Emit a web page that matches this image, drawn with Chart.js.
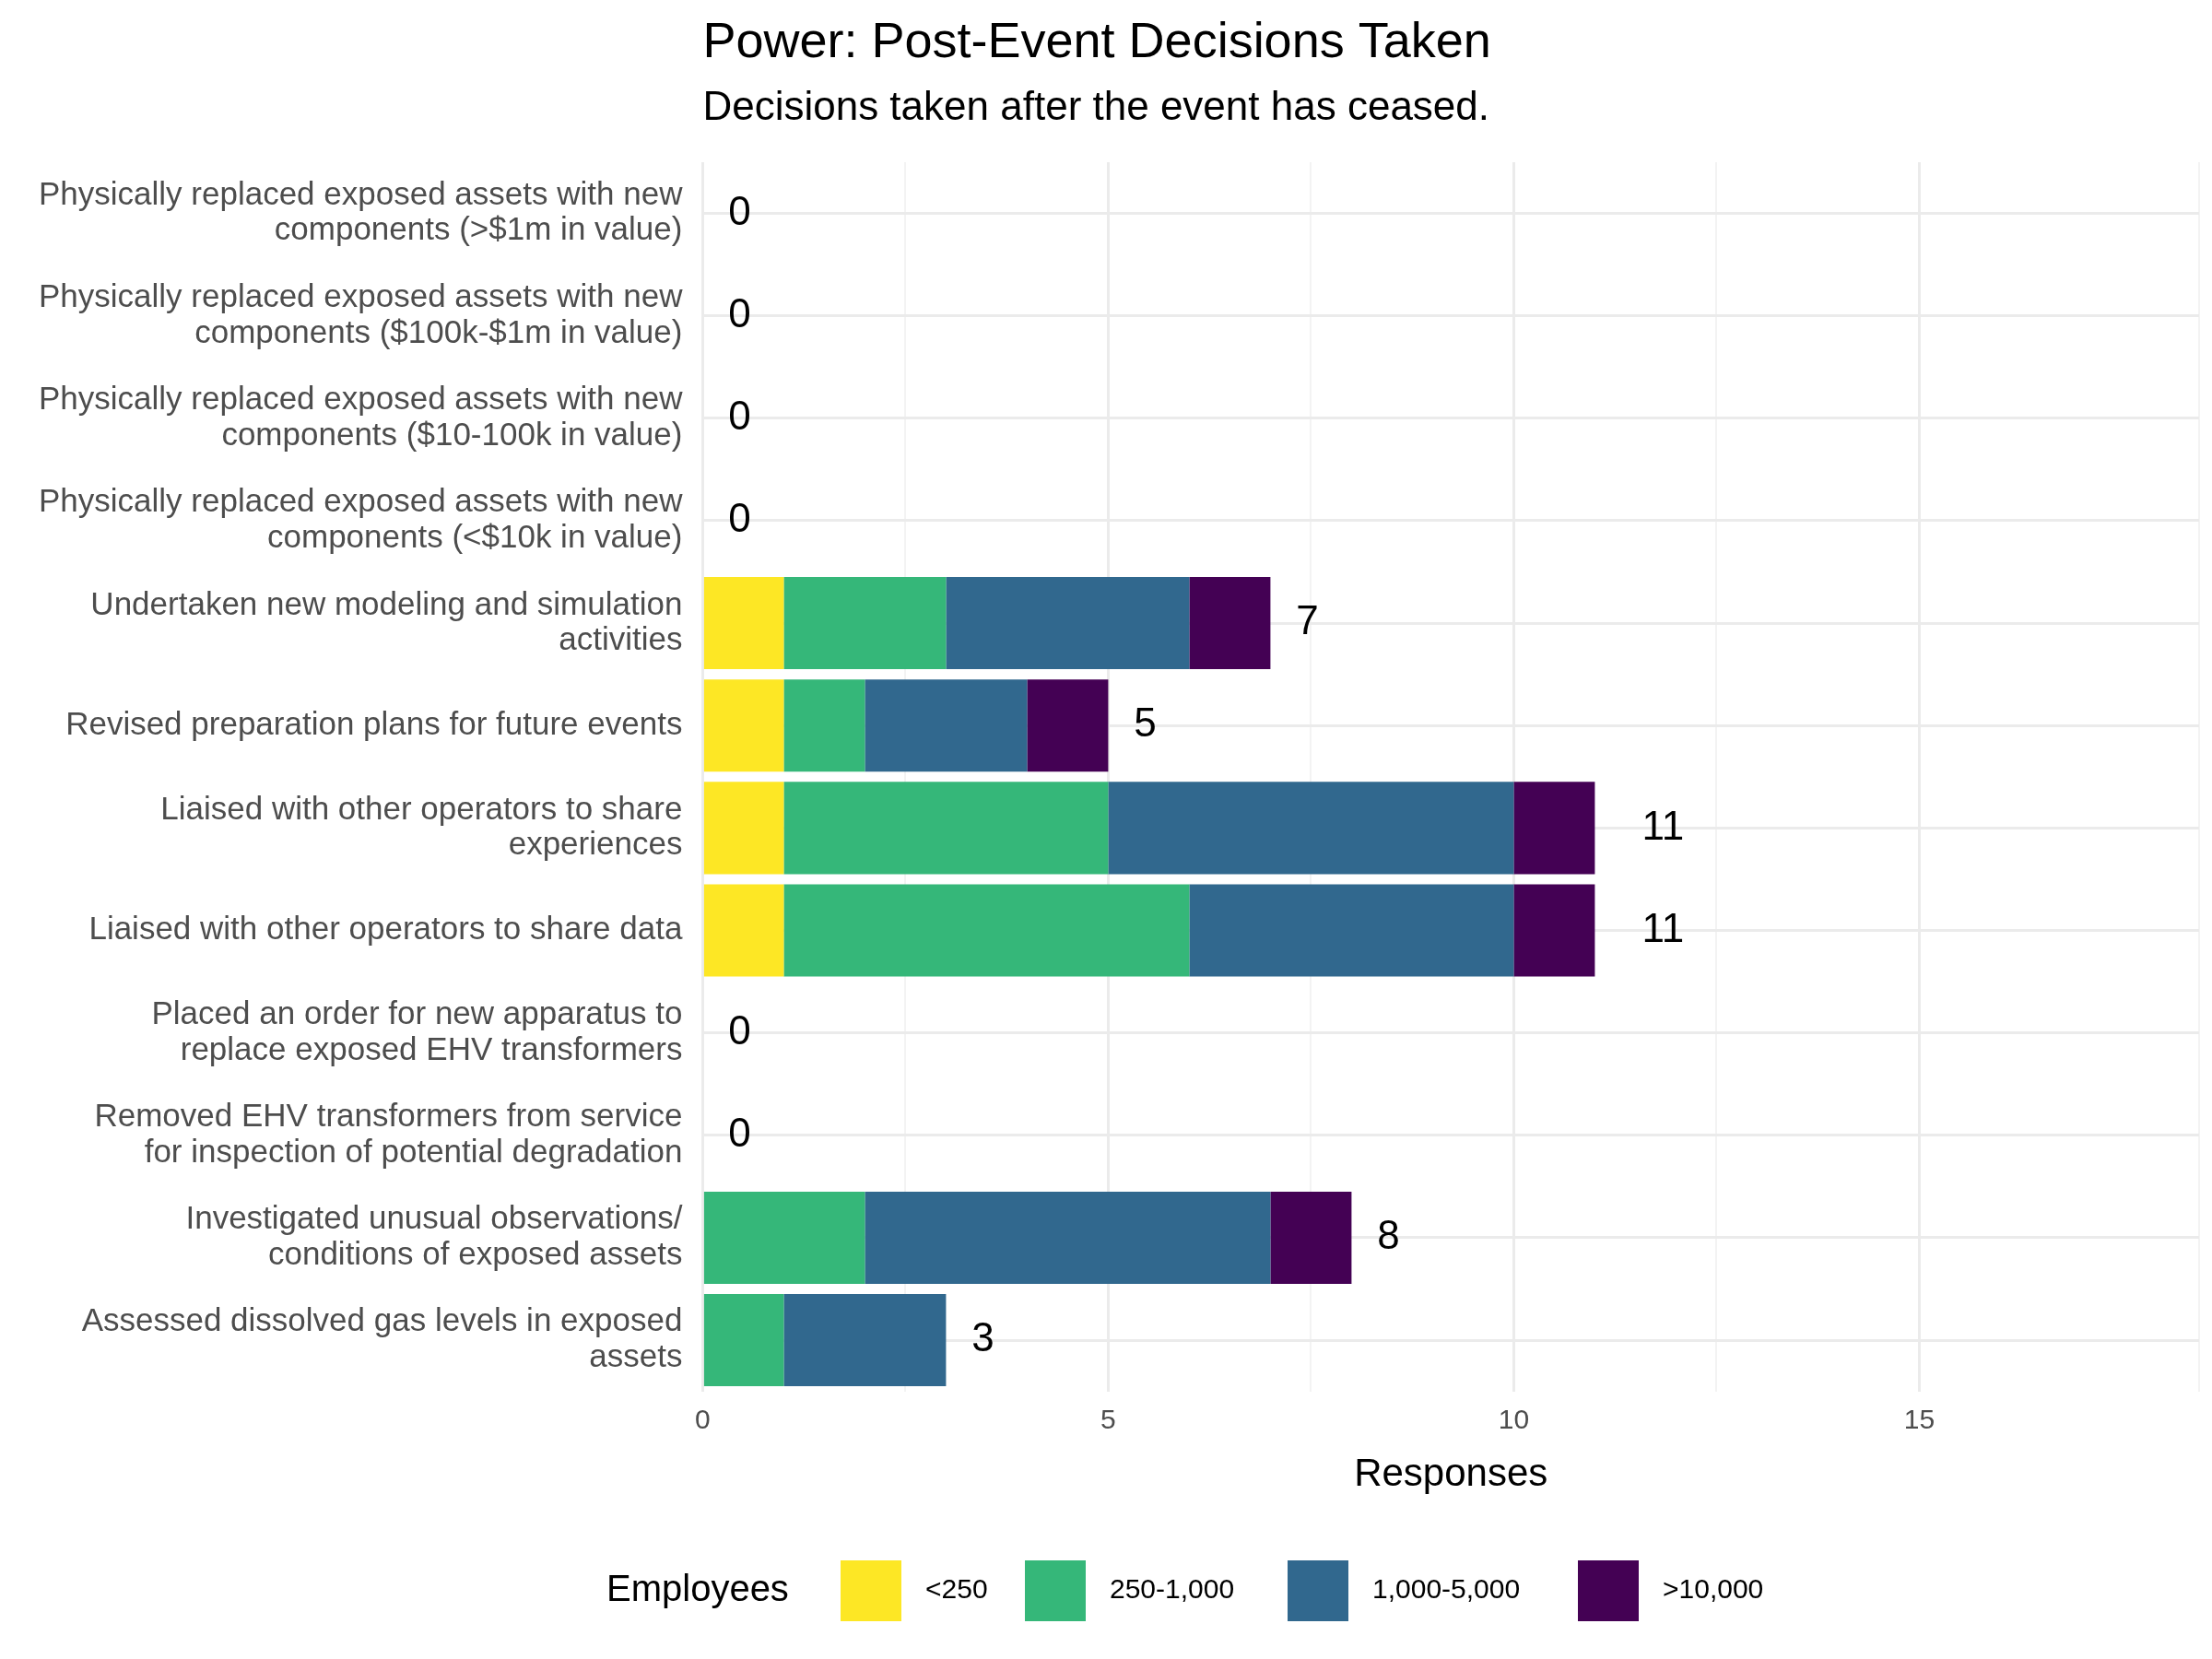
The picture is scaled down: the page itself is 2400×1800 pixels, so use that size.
<!DOCTYPE html>
<html>
<head>
<meta charset="utf-8">
<script src="https://cdn.jsdelivr.net/npm/chart.js@4"></script>
<style>
  html, body { margin: 0; padding: 0; background: #fff; }
  #wrap { width: 2400px; height: 1800px; }
</style>
</head>
<body>
<div id="wrap"><canvas id="chart" width="2400" height="1800"></canvas></div>
<script>
// categories, top to bottom
const categories = [
    ['Physically replaced exposed assets with new', 'components (>$1m in value)'],
    ['Physically replaced exposed assets with new', 'components ($100k-$1m in value)'],
    ['Physically replaced exposed assets with new', 'components ($10-100k in value)'],
    ['Physically replaced exposed assets with new', 'components (<$10k in value)'],
    ['Undertaken new modeling and simulation', 'activities'],
    'Revised preparation plans for future events',
    ['Liaised with other operators to share', 'experiences'],
    'Liaised with other operators to share data',
    ['Placed an order for new apparatus to', 'replace exposed EHV transformers'],
    ['Removed EHV transformers from service', 'for inspection of potential degradation'],
    ['Investigated unusual observations/', 'conditions of exposed assets'],
    ['Assessed dissolved gas levels in exposed', 'assets']
];

const seriesNames = ['<250', '250-1,000', '1,000-5,000', '>10,000'];
const under250 = [0, 0, 0, 0, 1, 1, 1, 1, 0, 0, 0, 0];
const from250to1000 = [0, 0, 0, 0, 2, 1, 4, 5, 0, 0, 2, 1];
const from1000to5000 = [0, 0, 0, 0, 3, 2, 5, 4, 0, 0, 5, 2];
const over10000 = [0, 0, 0, 0, 1, 1, 1, 1, 0, 0, 1, 0];
const colors = ['#FDE725', '#35B779', '#31688E', '#440154'];
const xTicks = [0, 5, 10, 15];

const FONT = 'Liberation Sans, Arial, sans-serif';
Chart.defaults.font.family = FONT;

const seriesValues = [under250, from250to1000, from1000to5000, over10000];

// title, subtitle, total labels and legend
const extras = {
    id: 'extras',
    afterDraw(chart) {
        const c = chart.ctx;
        const area = chart.chartArea;
        const x = chart.scales.x, y = chart.scales.y;
        c.save();
        c.fillStyle = '#000';
        c.textBaseline = 'alphabetic';
        c.textAlign = 'left';
        c.font = '54px ' + FONT;
        c.fillText('Power: Post-Event Decisions Taken', area.left, 62);
        c.font = '44px ' + FONT;
        c.fillText('Decisions taken after the event has ceased.', area.left, 130);

        // totals
        c.font = '44px ' + FONT;
        c.textBaseline = 'middle';
        c.textAlign = 'center';
        categories.forEach((cat, i) => {
            const total = seriesValues.reduce((s, arr) => s + arr[i], 0);
            const px = x.getPixelForValue(total) + (total >= 10 ? 74 : 40);
            c.fillText(String(total), px, y.getPixelForValue(i));
        });

        // legend
        const ly = 1726;
        const box = 66;
        const boxX = [912, 1112, 1397, 1712];
        c.textBaseline = 'middle';
        c.textAlign = 'left';
        c.font = '40px ' + FONT;
        c.fillText('Employees', 658, ly);
        seriesNames.forEach((n, i) => {
            c.fillStyle = colors[i];
            c.fillRect(boxX[i], ly - box / 2, box, box);
            c.fillStyle = '#000';
            c.font = '30px ' + FONT;
            c.fillText(n, boxX[i] + box + 26, ly);
        });
        c.restore();
    }
};

new Chart(document.getElementById('chart').getContext('2d'), {
    type: 'bar',
    data: {
        labels: categories,
        datasets: seriesNames.map((n, i) => ({
            label: n,
            data: seriesValues[i],
            backgroundColor: colors[i],
            borderWidth: 0,
            categoryPercentage: 0.9,
            barPercentage: 1.0
        }))
    },
    options: {
        indexAxis: 'y',
        responsive: false,
        animation: false,
        layout: { padding: { top: 176, right: 12, bottom: 170, left: 20 } },
        plugins: {
            legend: { display: false },
            tooltip: { enabled: false }
        },
        scales: {
            x: {
                stacked: true,
                min: 0,
                max: 18.45,
                border: { display: false },
                grid: {
                    color: (ctx) => (ctx.tick && ctx.tick.value % 5 === 0) ? '#EBEBEB' : '#F3F3F3',
                    lineWidth: (ctx) => (ctx.tick && ctx.tick.value % 5 === 0) ? 3 : 2,
                    drawTicks: false
                },
                ticks: {
                    stepSize: 2.5,
                    autoSkip: false,
                    color: '#4D4D4D',
                    font: { size: 30 },
                    padding: 14,
                    callback: (v) => xTicks.includes(v) ? String(v) : ''
                },
                title: {
                    display: true,
                    text: 'Responses',
                    color: '#000',
                    font: { size: 42 },
                    padding: { top: 2 }
                }
            },
            y: {
                stacked: true,
                border: { display: false },
                grid: { color: '#EBEBEB', lineWidth: 3, offset: false, drawTicks: false },
                ticks: {
                    color: '#4D4D4D',
                    font: { size: 35, lineHeight: 1.1 },
                    padding: 22
                }
            }
        }
    },
    plugins: [extras]
});
</script>
</body>
</html>
